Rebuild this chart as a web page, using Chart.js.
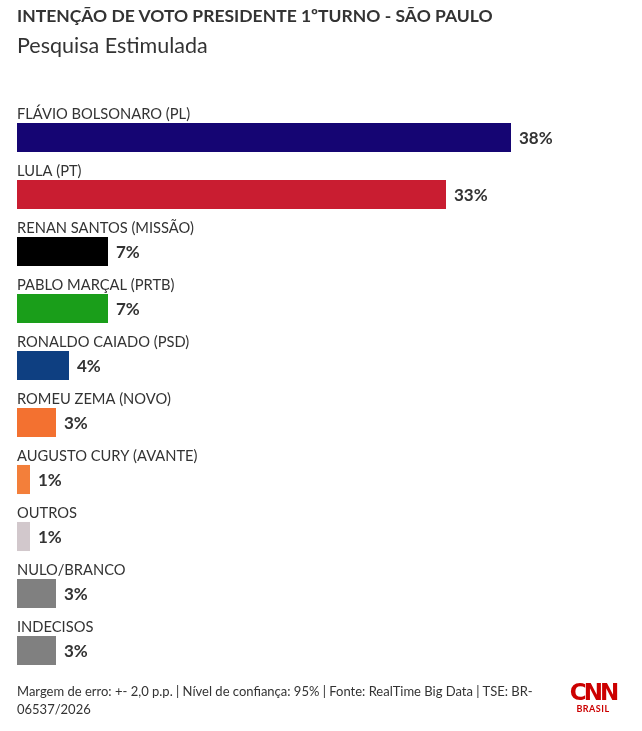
<!DOCTYPE html>
<html>
<head>
<meta charset="utf-8">
<script src="https://cdn.jsdelivr.net/npm/chart.js@4.4.1/dist/chart.umd.min.js"></script>
<style>
  body { margin: 0; background: #fff; font-family: Lato, "Noto Sans", sans-serif; color: #333; }
  #wrap { position: relative; width: 642px; height: 731px; overflow: hidden; }
  #box { position: absolute; left: 0; top: 0; width: 642px; height: 731px; }
  .title { position: absolute; left: 17px; top: 5px; font-size: 17.5px; font-weight: 700; color: #333; white-space: nowrap; }
  .sub { position: absolute; left: 17px; top: 32px; font-size: 21.5px; color: #333; white-space: nowrap; }
  .foot { position: absolute; left: 17px; top: 682px; font-size: 13px; line-height: 18px; color: #333; }
  .logo { position: absolute; left: 568px; top: 680px; width: 50px; text-align: center; color: #cc0000; }
  .logo .cnn { font-size: 23px; font-weight: 900; letter-spacing: -3px; line-height: 24px; font-family: "DejaVu Sans", sans-serif; }
  .logo .br { font-size: 9px; font-weight: 700; line-height: 10px; letter-spacing: 0.5px; }
</style>
</head>
<body>
<div id="wrap">
  <div id="box"><canvas id="myChart"></canvas></div>
  <div class="title">INTENÇÃO DE VOTO PRESIDENTE 1ºTURNO - SÃO PAULO</div>
  <div class="sub">Pesquisa Estimulada</div>
  <div class="foot">Margem de erro: +- 2,0 p.p. | Nível de confiança: 95% | Fonte: RealTime Big Data | TSE: BR-<br>06537/2026</div>
  <div class="logo"><div class="cnn">CNN</div><div class="br">BRASIL</div></div>
</div>
<script>
var candidates = ["FLÁVIO BOLSONARO (PL)", "LULA (PT)", "RENAN SANTOS (MISSÃO)", "PABLO MARÇAL (PRTB)",
  "RONALDO CAIADO (PSD)", "ROMEU ZEMA (NOVO)", "AUGUSTO CURY (AVANTE)", "OUTROS", "NULO/BRANCO", "INDECISOS"];
var votes = [38, 33, 7, 7, 4, 3, 1, 1, 3, 3];
var barColors = ["#150573", "#c91d31", "#000000", "#1a9e1a", "#0e3f81", "#f37130", "#f37f3a", "#d2c8cc", "#808080", "#808080"];

// names above each bar, percentages to the right
var barText = {
  id: "barText",
  afterDatasetsDraw: function(chart) {
    var ctx = chart.ctx;
    var meta = chart.getDatasetMeta(0);
    ctx.save();
    meta.data.forEach(function(bar, i) {
      var top = bar.y - bar.height / 2;
      ctx.fillStyle = "#333";
      ctx.textAlign = "left";
      ctx.textBaseline = "alphabetic";
      ctx.font = "14.7px Lato, 'Noto Sans', sans-serif";
      ctx.fillText(candidates[i], chart.chartArea.left, top - 4);
      ctx.font = "bold 17px Lato, 'Noto Sans', sans-serif";
      ctx.textBaseline = "middle";
      ctx.fillText(votes[i] + "%", bar.x + 8, bar.y + 1);
    });
    ctx.restore();
  }
};

new Chart("myChart", {
  type: "bar",
  data: {
    labels: candidates,
    datasets: [{
      data: votes,
      backgroundColor: barColors,
      borderWidth: 0,
      categoryPercentage: 1,
      barPercentage: 0.51
    }]
  },
  options: {
    indexAxis: "y",
    responsive: true,
    maintainAspectRatio: false,
    animation: false,
    layout: { padding: { top: 109, bottom: 52, left: 17, right: 14 } },
    scales: {
      x: { display: false, min: 0, max: 47 },
      y: { display: false }
    },
    plugins: {
      legend: { display: false },
      tooltip: { enabled: false }
    }
  },
  plugins: [barText]
});
</script>
</body>
</html>
